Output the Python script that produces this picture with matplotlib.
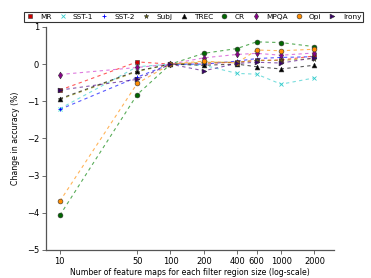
import matplotlib
matplotlib.use("Agg")
import matplotlib.pyplot as plt

x = [10, 50, 100, 200, 400, 600, 1000, 2000]
names = ["MR", "SST-1", "SST-2", "Subj", "TREC", "CR", "MPQA", "Opi", "Irony"]
MR    = [-0.70, 0.06, 0.0, 0.02, 0.05, 0.10, 0.11, 0.22]
SST1  = [-1.20, -0.07, 0.0, -0.03, -0.25, -0.27, -0.54, -0.37]
SST2  = [-1.22, -0.35, 0.0, 0.00, 0.08, 0.15, 0.18, 0.20]
Subj  = [-0.95, -0.20, 0.0, 0.05, 0.05, 0.10, 0.10, 0.15]
TREC  = [-0.93, -0.18, 0.0, -0.03, 0.00, -0.07, -0.13, -0.03]
CR    = [-4.07, -0.82, 0.0, 0.29, 0.42, 0.60, 0.58, 0.47]
MPQA  = [-0.28, -0.09, 0.0, 0.17, 0.26, 0.29, 0.24, 0.30]
Opi   = [-3.69, -0.52, 0.0, 0.08, 0.03, 0.38, 0.36, 0.40]
Irony = [-0.70, -0.41, 0.0, -0.18, 0.02, 0.05, 0.03, 0.17]
series = [MR, SST1, SST2, Subj, TREC, CR, MPQA, Opi, Irony]
xticks = [10, 50, 100, 200, 400, 600, 1000, 2000]
yticks = [-5, -4, -3, -2, -1, 0, 1]

styles = [
    ("red", "s", "#cc0000"),
    ("#33cccc", "x", "#33cccc"),
    ("blue", "+", "blue"),
    ("#999900", "*", "#666600"),
    ("black", "^", "black"),
    ("green", "o", "#006600"),
    ("#cc33cc", "d", "#880088"),
    ("darkorange", "o", "darkorange"),
    ("#4b0082", ">", "#3a006a"),
]

fig = plt.figure(figsize=(3.71, 2.78), dpi=100)
ax = fig.add_axes([0.124, 0.101, 0.776, 0.802])
for name, ys, (lc, m, mc) in zip(names, series, styles):
    ax.plot(x, ys, linestyle=(0, (3, 3)), color=lc, alpha=0.65, linewidth=0.8, zorder=2)
    ax.plot(x, ys, linestyle="none", marker=m, color=mc, markersize=3.5,
            markeredgewidth=0.6 if m in ("x", "+") else 0.4,
            markeredgecolor=mc if m in ("x", "+") else "#333333",
            label=name, zorder=3)

ax.set_xscale("log")
ax.set_xlim(7.5, 3000)
ax.set_ylim(-5, 1)
ax.set_xticks(xticks)
ax.set_xticklabels([str(v) for v in xticks])
ax.minorticks_off()
ax.set_yticks(yticks)
ax.set_yticklabels(["\u2212%d" % -v if v < 0 else str(v) for v in yticks])
for s in ("top", "right"):
    ax.spines[s].set_visible(False)
for s in ("left", "bottom"):
    ax.spines[s].set_color("#555555")
    ax.spines[s].set_linewidth(0.9)
ax.tick_params(labelsize=6, length=3, width=0.6, color="#555555", pad=2)
ax.set_xlabel("Number of feature maps for each filter region size (log-scale)", fontsize=5.6, labelpad=1.5)
ax.set_ylabel("Change in accuracy (%)", fontsize=5.6, labelpad=5)

leg = fig.legend(loc="upper center", bbox_to_anchor=(0.522, 0.958), ncol=9, fontsize=5.3,
                 frameon=True, fancybox=False, handlelength=1.0, handletextpad=0.9,
                 columnspacing=1.0, borderpad=0.25, borderaxespad=0)
leg.get_frame().set_edgecolor("black")
leg.get_frame().set_linewidth(0.8)

fig.savefig("out.png", dpi=100)
